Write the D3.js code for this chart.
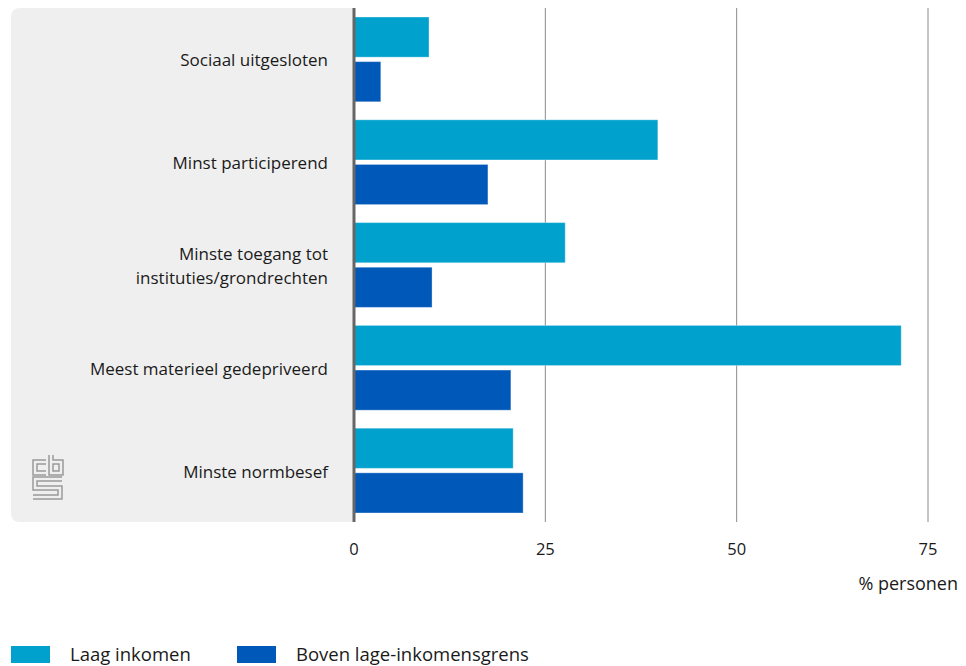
<!DOCTYPE html>
<html>
<head>
<meta charset="utf-8">
<script src="https://cdn.jsdelivr.net/npm/d3@7"></script>
<style>
  body { margin: 0; background: #fff; }
  svg { display: block; font-family: "Open Sans", sans-serif; }
</style>
</head>
<body>
<svg id="chart"></svg>
<script>
// data
var categories = ['Sociaal uitgesloten', 'Minst participerend', 'Minste toegang tot instituties/grondrechten', 'Meest materieel gedepriveerd', 'Minste normbesef'];
var labelLines = [['Sociaal uitgesloten'], ['Minst participerend'], ['Minste toegang tot', 'instituties/grondrechten'], ['Meest materieel gedepriveerd'], ['Minste normbesef']];
var seriesNames = ['Laag inkomen', 'Boven lage-inkomensgrens'];
var laagInkomen = [9.8, 39.7, 27.6, 71.5, 20.8];
var bovenGrens = [3.5, 17.5, 10.2, 20.5, 22.1];
var ticks = [0, 25, 50, 75];
var axisTitle = '% personen';

var colors = {'Laag inkomen': '#00a1cd', 'Boven lage-inkomensgrens': '#0058b8'};

var width = 966, height = 666;
var margins = {top: 8, bottom: 144, left: 354, right: 38};

var svg = d3.select('#chart').attr('width', width).attr('height', height);

var x = d3.scaleLinear().domain([0, 75]).range([margins.left, width - margins.right]);
var y = d3.scaleBand().domain(categories).range([margins.top, height - margins.bottom]);
var step = y.step();
var ySub = d3.scaleBand().domain(seriesNames).range([9, step - 9]).paddingInner(0.1);

// grey label panel with rounded left corners
var px0 = 11, px1 = margins.left, py0 = margins.top, py1 = height - margins.bottom, r = 9;
svg.append('path')
   .attr('d', `M${px1},${py0} H${px0 + r} Q${px0},${py0} ${px0},${py0 + r} V${py1 - r} Q${px0},${py1} ${px0 + r},${py1} H${px1} Z`)
   .attr('fill', '#efefef');

// grid lines
svg.append('g').selectAll('line')
   .data(ticks.filter(d => d > 0))
   .enter().append('line')
   .attr('x1', d => x(d)).attr('x2', d => x(d))
   .attr('y1', margins.top).attr('y2', py1)
   .attr('stroke', '#8a8a8a').attr('stroke-width', 1);

// bars
var rows = categories.map((c, i) => ({cat: c, values: [
    {name: seriesNames[0], value: laagInkomen[i]},
    {name: seriesNames[1], value: bovenGrens[i]}
]}));

var groups = svg.append('g').selectAll('g')
   .data(rows).enter().append('g')
   .attr('transform', d => `translate(0,${y(d.cat)})`);

groups.selectAll('rect')
   .data(d => d.values).enter().append('rect')
   .attr('x', x(0))
   .attr('y', d => ySub(d.name))
   .attr('width', d => x(d.value) - x(0))
   .attr('height', ySub.bandwidth())
   .attr('fill', d => colors[d.name])
   .attr('stroke', 'rgba(255,255,255,0.35)')
   .attr('stroke-width', 1);

// zero axis line
svg.append('line')
   .attr('x1', x(0)).attr('x2', x(0))
   .attr('y1', margins.top).attr('y2', py1)
   .attr('stroke', '#666').attr('stroke-width', 3);

// category labels
var labels = svg.append('g').selectAll('text')
   .data(categories).enter().append('text')
   .attr('text-anchor', 'end')
   .attr('font-size', '17px')
   .attr('fill', '#1a1a1a')
   .attr('x', 328)
   .attr('y', d => y(d) + step / 2 + 1);

labels.each(function(d, i) {
    var lines = labelLines[i];
    var sel = d3.select(this);
    lines.forEach((ln, j) => {
        sel.append('tspan')
           .attr('x', 328)
           .attr('dy', j === 0 ? `${0.35 - (lines.length - 1) * 0.68}em` : '1.36em')
           .text(ln);
    });
});

// x tick labels
svg.append('g').selectAll('text')
   .data(ticks).enter().append('text')
   .attr('x', d => x(d))
   .attr('y', 555)
   .attr('text-anchor', 'middle')
   .attr('font-size', '16.5px')
   .attr('fill', '#1a1a1a')
   .text(d => d);

svg.append('text')
   .attr('x', 958).attr('y', 590)
   .attr('text-anchor', 'end')
   .attr('font-size', '18px')
   .attr('fill', '#1a1a1a')
   .text(axisTitle);

// cbs logo
var logo = svg.append('g').attr('transform', 'translate(32,454)').attr('fill', 'none').attr('stroke-linejoin', 'miter');
var logoPaths = ['M14,8 H3 V19 H14', 'M19,1 V19 H29 V8 H19', 'M30,25 H3 V34 H28 V43 H1'];
logoPaths.forEach(p => {
    logo.append('path').attr('d', p).attr('stroke', '#9a9a9a').attr('stroke-width', 5.5);
    logo.append('path').attr('d', p).attr('stroke', '#efefef').attr('stroke-width', 2.5);
});

// legend
var legend = svg.append('g').selectAll('g')
   .data(seriesNames).enter().append('g')
   .attr('transform', (d, i) => `translate(${i === 0 ? 11 : 237},646)`);

legend.append('rect')
   .attr('width', 39).attr('height', 17)
   .attr('fill', d => colors[d]);

legend.append('text')
   .attr('x', 59).attr('y', 15)
   .attr('font-size', '18.5px')
   .attr('fill', '#1a1a1a')
   .text(d => d);
</script>
</body>
</html>
